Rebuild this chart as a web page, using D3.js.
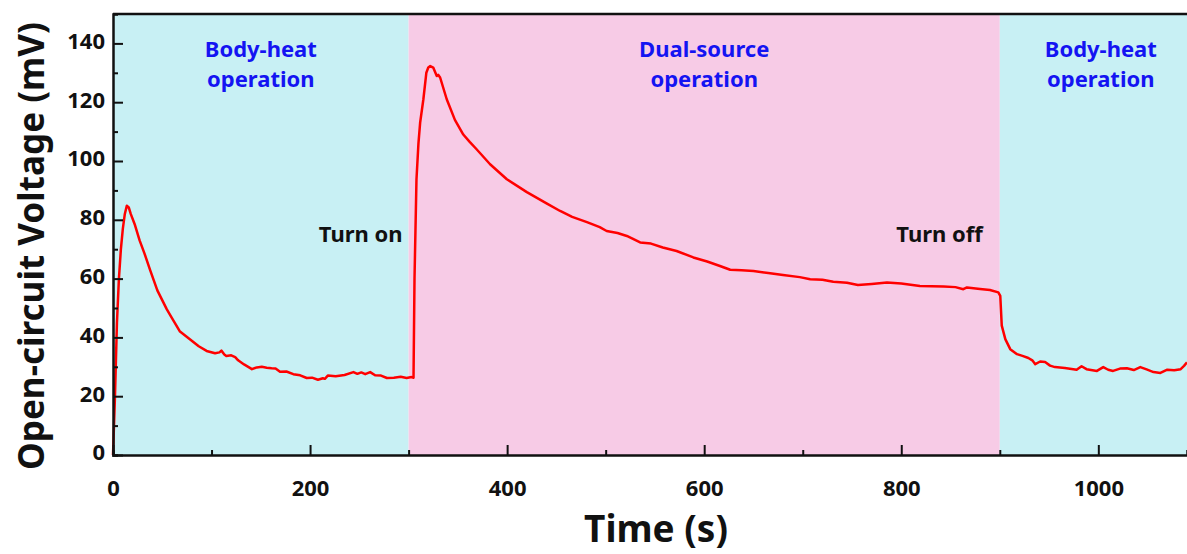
<!DOCTYPE html>
<html>
<head>
<meta charset="utf-8">
<script src="https://cdn.jsdelivr.net/npm/d3@7"></script>
<style>
  body { margin: 0; background: #fff; }
  svg { display: block; font-family: "Noto Sans", "DejaVu Sans", sans-serif; }
</style>
</head>
<body>
<svg id="chart"></svg>
<script>
// time (s) and open-circuit voltage (mV)
let time = [0, 2, 4, 6, 8, 10, 12, 14, 16, 18, 22, 27, 32, 37.6, 45, 54.5, 60, 68, 78, 87, 95, 103.6, 108, 110, 113, 115, 120, 124, 127, 133, 141, 146, 151, 156, 161, 165, 169.5, 176, 183, 190, 196.6, 202, 208, 213, 215, 218, 226, 235, 244, 248, 252, 256, 261, 266, 272, 278, 285, 292, 298, 303, 305,
  306, 308, 310, 311.7, 315, 318, 320, 322, 325, 327, 328.6, 330, 332, 338.7, 347, 355.5, 362, 369, 382.7, 399.7, 420, 440, 453.8, 466, 481, 494, 501, 512, 521.5, 535, 546, 558, 572, 589, 603, 616, 626.4, 638, 650, 665, 680, 697, 707.6, 720, 731, 745, 756, 770, 785.5, 800, 819, 843, 855, 863, 866.7, 880, 890, 898.5,
  900.5, 902, 905.6, 910.6, 917.5, 923, 929, 933, 936, 941, 946, 951, 956, 966, 978, 983, 988, 998.6, 1005, 1010, 1015, 1022, 1029, 1036, 1042.6, 1049, 1056, 1063, 1070, 1077, 1083.6, 1087, 1090];
let voltage = [0, 20, 45, 60, 70, 77, 82, 84.8, 84.2, 82, 78.5, 73, 68.5, 63, 56, 49.6, 46.5, 42, 39.4, 37, 35.4, 34.6, 34.9, 35.5, 34.2, 33.7, 33.9, 33.3, 32.2, 30.8, 29.2, 29.8, 30, 29.7, 29.5, 29.4, 28.3, 28.4, 27.5, 27.1, 26.2, 26.3, 25.6, 26.1, 25.9, 27, 26.8, 27.2, 28.2, 27.6, 28.1, 27.5, 28.2, 27.1, 27, 26.2, 26.3, 26.6, 26.2, 26.5, 26.3,
  60, 93.8, 106, 113, 121, 130, 131.8, 132.3, 131.8, 130.2, 128.9, 129.3, 128.4, 121, 114, 109, 106.5, 104, 98.9, 93.8, 89.4, 85.6, 83, 81, 79.2, 77.5, 76.2, 75.5, 74.5, 72.3, 71.9, 70.6, 69.4, 67.2, 65.8, 64.3, 63, 62.8, 62.6, 61.9, 61.2, 60.5, 59.8, 59.6, 58.9, 58.6, 57.8, 58.2, 58.7, 58.3, 57.5, 57.3, 57.1, 56.4, 57, 56.5, 56.1, 55.3,
  54.1, 44, 39.4, 36, 34.3, 33.7, 33, 32.2, 30.9, 31.8, 31.6, 30.4, 29.9, 29.6, 29, 30.2, 29.2, 28.6, 29.9, 29, 28.6, 29.4, 29.5, 28.9, 29.9, 29.1, 28.2, 27.9, 29, 28.8, 29.2, 30.3, 31.5];

// operating phases
let phaseStart = [0, 300, 900];
let phaseEnd = [300, 900, 1090];
let phaseLabel = [["Body-heat", "operation"], ["Dual-source", "operation"], ["Body-heat", "operation"]];
let phaseColor = ["#c8f0f4", "#f7cbe6", "#c8f0f4"];

// switching events
let eventTime = [300, 900];
let eventLabel = ["Turn on", "Turn off"];

let xTicks = [0, 200, 400, 600, 800, 1000];
let yTicks = [0, 20, 40, 60, 80, 100, 120, 140];

let W = 1187, H = 554;
let margin = {top: 14, right: 0, bottom: 99, left: 113};
let width = W - margin.left - margin.right;
let height = H - margin.top - margin.bottom;

let svg = d3.select("#chart").attr("width", W).attr("height", H);
let g = svg.append("g").attr("transform", "translate(" + margin.left + "," + margin.top + ")");

let x = d3.scaleLinear().domain([0, 1090]).range([0, width]);
let y = d3.scaleLinear().domain([0, 150]).range([height, 0]);

// background bands
g.selectAll(".band")
  .data(phaseStart)
  .enter().append("rect")
  .attr("class", "band")
  .attr("x", (d) => x(d))
  .attr("width", (d, i) => x(phaseEnd[i]) - x(d))
  .attr("y", 0)
  .attr("height", height)
  .style("fill", (d, i) => phaseColor[i]);

// phase labels
phaseStart.map((d, i) => {
  let cx = (x(d) + x(phaseEnd[i])) / 2;
  if (i == 2) cx = x(d) + 101;
  let t = g.append("text")
    .attr("x", cx)
    .attr("y", 43)
    .attr("text-anchor", "middle")
    .style("fill", "#1414f2")
    .style("font-size", "22px")
    .style("font-weight", "bold");
  t.append("tspan").attr("x", cx).attr("dy", 0).text(phaseLabel[i][0]);
  t.append("tspan").attr("x", cx).attr("dy", 30).text(phaseLabel[i][1]);
});

// event labels
let eventDx = [-6, -17];
g.selectAll(".event")
  .data(eventTime)
  .enter().append("text")
  .attr("class", "event")
  .attr("x", (d, i) => x(d) + eventDx[i])
  .attr("y", y(75) + 7)
  .attr("text-anchor", "end")
  .style("font-size", "22px")
  .style("font-weight", "bold")
  .style("fill", "#111")
  .text((d, i) => eventLabel[i]);

// the curve
let line = d3.line()
  .x((d, i) => x(time[i]))
  .y((d) => y(d));

g.append("path")
  .datum(voltage)
  .attr("d", line)
  .style("fill", "none")
  .style("stroke", "#ff0000")
  .style("stroke-width", 2.5)
  .style("stroke-linejoin", "round");

// axes (ticks pointing inward)
let xAxis = g.append("g")
  .attr("transform", "translate(0," + height + ")")
  .call(d3.axisBottom(x).tickValues(d3.range(0, 1091, 100)).tickSize(-5).tickPadding(25)
    .tickFormat((d) => xTicks.indexOf(d) >= 0 ? d : ""));
xAxis.selectAll(".tick line")
  .attr("y2", (d) => xTicks.indexOf(d) >= 0 ? -10 : -5);

let yAxis = g.append("g")
  .call(d3.axisLeft(y).tickValues(d3.range(0, 141, 10)).tickSize(-5).tickPadding(8)
    .tickFormat((d) => yTicks.indexOf(d) >= 0 ? d : ""));
yAxis.selectAll(".tick line")
  .attr("x2", (d) => yTicks.indexOf(d) >= 0 ? 10 : 5);
yAxis.selectAll(".tick text").attr("dy", "0.22em");

[xAxis, yAxis].map((a) => {
  a.select(".domain").style("stroke", "#111").style("stroke-width", 2.5);
  a.selectAll(".tick line").style("stroke", "#111").style("stroke-width", 2);
  a.selectAll("text")
    .style("font-size", "22px")
    .style("font-weight", "bold")
    .style("fill", "#111")
    .style("font-family", "'Noto Sans', sans-serif");
});

// top frame line
g.append("line")
  .attr("x1", 0).attr("x2", width)
  .attr("y1", 0).attr("y2", 0)
  .style("stroke", "#111")
  .style("stroke-width", 2.5);

// axis titles
svg.append("text")
  .attr("x", 656)
  .attr("y", 542)
  .attr("text-anchor", "middle")
  .style("font-size", "37px")
  .style("font-weight", "bold")
  .style("fill", "#111")
  .text("Time (s)");

svg.append("text")
  .attr("transform", "translate(44,246) rotate(-90)")
  .attr("text-anchor", "middle")
  .attr("textLength", 448)
  .attr("lengthAdjust", "spacingAndGlyphs")
  .style("font-size", "36px")
  .style("font-weight", "bold")
  .style("fill", "#111")
  .text("Open-circuit Voltage (mV)");
</script>
</body>
</html>
